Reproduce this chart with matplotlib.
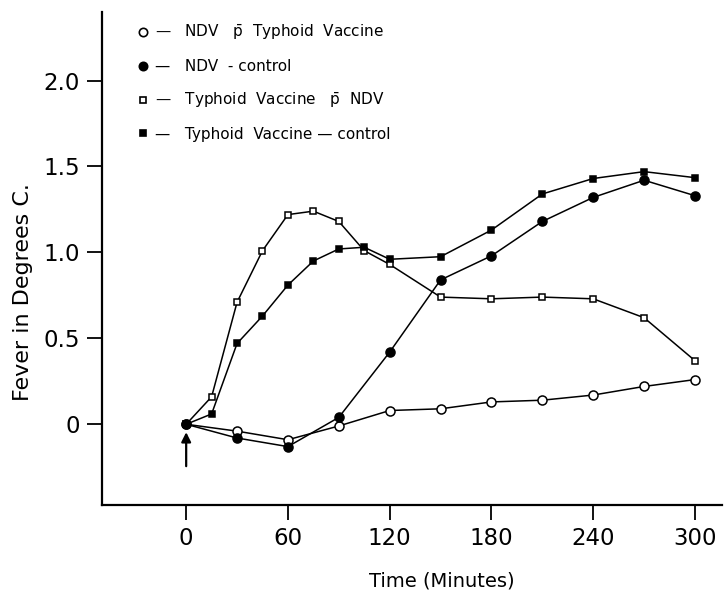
import numpy as np
import matplotlib.pyplot as plt

# data
minutes_a = [0, 30, 60, 90, 120, 150, 180, 210, 240, 270, 300]
ndv_typhoid = [0, -0.04, -0.09, -0.01, 0.08, 0.09, 0.13, 0.14, 0.17, 0.22, 0.26]
ndv_control = [0, -0.08, -0.13, 0.04, 0.42, 0.84, 0.98, 1.18, 1.32, 1.42, 1.33]

minutes_b = [0, 15, 30, 45, 60, 75, 90, 105, 120, 150, 180, 210, 240, 270, 300]
typhoid_ndv = [0, 0.16, 0.71, 1.01, 1.22, 1.24, 1.18, 1.01, 0.93,
               0.74, 0.73, 0.74, 0.73, 0.62, 0.37]
typhoid_control = [0, 0.06, 0.47, 0.63, 0.81, 0.95, 1.02, 1.03, 0.96,
                   0.975, 1.13, 1.34, 1.43, 1.47, 1.435]

pbar = r"$\bar{\mathrm{p}}$"
labels = [
    "—   NDV   " + pbar + "  Typhoid  Vaccine",
    "—   NDV  - control",
    "—   Typhoid  Vaccine   " + pbar + "  NDV",
    "—   Typhoid  Vaccine — control",
]

xticks = [0, 60, 120, 180, 240, 300]
yticks = [0, 0.5, 1.0, 1.5, 2.0]
ytick_labels = ["0", "0.5", "1.0", "1.5", "2.0"]

# injection arrow (time 0)
arrow_x = 0
arrow_tail, arrow_head = -0.26, -0.03

plt.rcParams['mathtext.fontset'] = 'dejavusans'

fig = plt.figure(figsize=(7.25, 5.9), dpi=100)
ax = fig.add_axes([0.141, 0.144, 0.855, 0.836])

line_kw = dict(color='black', lw=1.1, markeredgecolor='black', markeredgewidth=1.1)
l1, = ax.plot(minutes_a, ndv_typhoid, marker='o', ms=6.5, mfc='white', zorder=3, **line_kw)
l2, = ax.plot(minutes_a, ndv_control, marker='o', ms=6.5, mfc='black', zorder=3, **line_kw)
l3, = ax.plot(minutes_b, typhoid_ndv, marker='s', ms=5, mfc='white', zorder=4, **line_kw)
l4, = ax.plot(minutes_b, typhoid_control, marker='s', ms=5, mfc='black', zorder=4, **line_kw)

# legend: marker only, dash is part of the label text
handles = []
for ln in (l1, l2, l3, l4):
    h, = ax.plot([], [], marker=ln.get_marker(), ms=ln.get_markersize() - 0.5,
                 mfc=ln.get_markerfacecolor(), mec='black', mew=1.2, ls='none')
    handles.append(h)
ax.legend(handles, labels, loc='upper left', bbox_to_anchor=(0.033, 1.005),
          frameon=False, fontsize=11, handlelength=0.8, handletextpad=0.4,
          labelspacing=1.1)

ax.annotate("", xy=(arrow_x, arrow_head), xytext=(arrow_x, arrow_tail),
            arrowprops=dict(arrowstyle='-|>', color='black', lw=1.6,
                            mutation_scale=14))

ax.set_xlim(-49.5, 316)
ax.set_ylim(-0.47, 2.40)
ax.set_xticks(xticks)
ax.set_yticks(yticks)
ax.set_yticklabels(ytick_labels)
ax.tick_params(axis='both', direction='out', length=11, width=1.3,
               labelsize=16.5, pad=5)

for s in ('top', 'right'):
    ax.spines[s].set_visible(False)
for s in ('left', 'bottom'):
    ax.spines[s].set_linewidth(1.6)

ax.set_xlabel("Time (Minutes)", fontsize=14)
ax.set_ylabel("Fever in Degrees C.", fontsize=16)
ax.xaxis.set_label_coords(0.548, -0.134)
ax.yaxis.set_label_coords(-0.111, 0.432)

fig.savefig("out.png", dpi=100)
